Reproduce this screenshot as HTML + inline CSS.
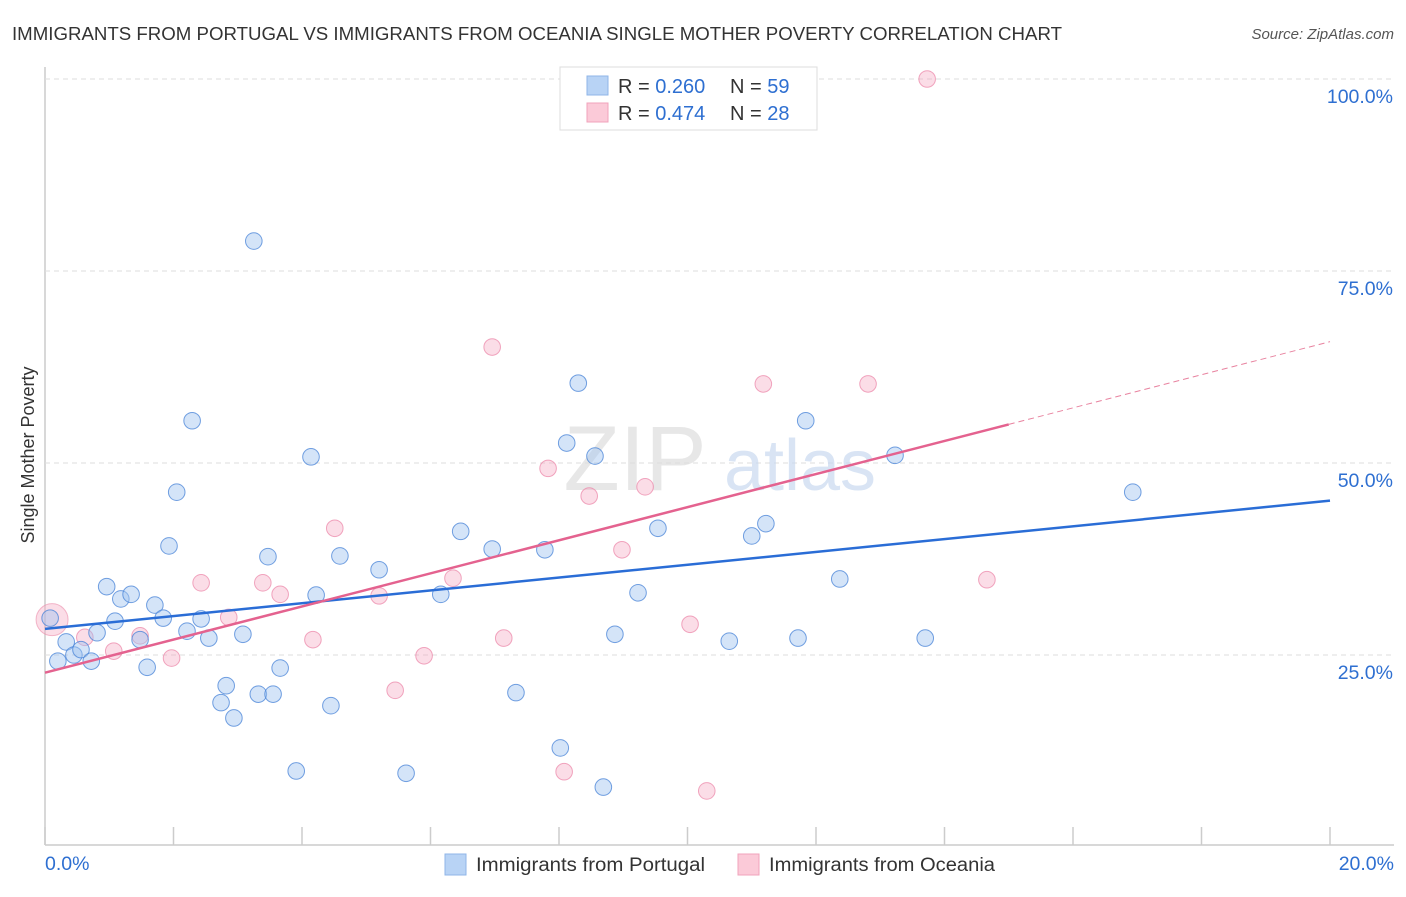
<!DOCTYPE html>
<html><head><meta charset="utf-8"><style>
body{margin:0;background:#fff;font-family:"Liberation Sans",sans-serif;}
svg text{font-family:"Liberation Sans",sans-serif;}
</style></head><body>
<svg id="chart" width="1406" height="892" viewBox="0 0 1406 892" xmlns="http://www.w3.org/2000/svg">
<text x="12" y="40" font-size="18" fill="#333" textLength="1050" lengthAdjust="spacingAndGlyphs">IMMIGRANTS FROM PORTUGAL VS IMMIGRANTS FROM OCEANIA SINGLE MOTHER POVERTY CORRELATION CHART</text>
<text x="1394" y="39" font-size="15" fill="#555" text-anchor="end" font-style="italic">Source: ZipAtlas.com</text>
<text transform="translate(34,455) rotate(-90)" font-size="18" fill="#333" text-anchor="middle">Single Mother Poverty</text>
<g id="grid"></g>
<g id="watermark">
<text x="635" y="490" font-size="92" fill="#ddd" text-anchor="middle" font-family="Liberation Serif" opacity="0.7">ZIP</text>
<text x="800" y="490" font-size="72" fill="#c9daf0" text-anchor="middle" opacity="0.7">atlas</text>
</g>
<g id="points"></g>
<g id="lines"></g>
<g>
<rect x="560" y="67" width="257" height="63" fill="#fff" stroke="#ddd"/>
<rect x="587" y="76" width="21" height="19" fill="#b8d3f5" stroke="#8fb6e8"/>
<rect x="587" y="103" width="21" height="19" fill="#fbcad8" stroke="#f0a3bb"/>
<text x="618" y="93" font-size="20" fill="#333">R = <tspan fill="#2e6fd1">0.260</tspan><tspan x="730">N = </tspan><tspan fill="#2e6fd1">59</tspan></text>
<text x="618" y="120" font-size="20" fill="#333">R = <tspan fill="#2e6fd1"> 0.474</tspan><tspan x="730">N = </tspan><tspan fill="#2e6fd1">28</tspan></text>
</g>
<g>
<rect x="445" y="854" width="21" height="21" fill="#b8d3f5" stroke="#8fb6e8"/>
<text x="476" y="871" font-size="19" fill="#333" textLength="229" lengthAdjust="spacingAndGlyphs">Immigrants from Portugal</text>
<rect x="738" y="854" width="21" height="21" fill="#fbcad8" stroke="#f0a3bb"/>
<text x="769" y="871" font-size="19" fill="#333" textLength="226" lengthAdjust="spacingAndGlyphs">Immigrants from Oceania</text>
</g>
</svg>
<script>
const yTicks=[25,50,75,100];
const yTickLabels=["25.0%","50.0%","75.0%","100.0%"];
const xTicks=[0,2,4,6,8,10,12,14,16,18,20];
const xEndLabels=["0.0%","20.0%"];
const portugalX=[0.08,0.20,0.33,0.45,0.56,0.72,0.81,0.96,1.09,1.18,1.34,1.48,1.59,1.71,1.84,1.93,2.05,2.21,2.29,2.43,2.55,2.74,2.82,2.94,3.08,3.25,3.32,3.47,3.55,3.66,3.91,4.14,4.22,4.45,4.59,5.20,5.62,6.16,6.47,6.96,7.33,7.78,8.02,8.12,8.30,8.56,8.69,8.87,9.23,9.54,10.65,11.00,11.22,11.72,11.84,12.37,13.23,13.70,16.93];
const portugalY=[29.8,24.2,26.7,25.0,25.7,24.2,27.9,33.9,29.4,32.3,32.9,27.0,23.4,31.5,29.8,39.2,46.2,28.1,55.5,29.7,27.2,18.8,21.0,16.8,27.7,78.9,19.9,37.8,19.9,23.3,9.9,50.8,32.8,18.4,37.9,36.1,9.6,32.9,41.1,38.8,20.1,38.7,12.9,52.6,60.4,50.9,7.8,27.7,33.1,41.5,26.8,40.5,42.1,27.2,55.5,34.9,51.0,27.2,46.2];
const oceaniaX=[0.11,0.62,1.07,1.48,1.97,2.43,2.86,3.39,3.66,4.17,4.51,5.20,5.45,5.90,6.35,6.96,7.14,7.83,8.08,8.47,8.98,9.34,10.04,10.30,11.18,12.81,13.73,14.66];
const oceaniaY=[29.6,27.3,25.5,27.5,24.6,34.4,29.9,34.4,32.9,27.0,41.5,32.7,20.4,24.9,35.0,65.1,27.2,49.3,9.8,45.7,38.7,46.9,29.0,7.3,60.3,60.3,100,34.8];
const portugalTrend=[28.4,0.835];
const oceaniaTrend=[22.7,2.155];
const oceaniaSolidEnd=15.0;

const NS="http://www.w3.org/2000/svg";
const X0=45,X1=1330,YB=847,YT=79;
const xs=v=>X0+(v/20)*(X1-X0);
const ys=v=>YB-(v/100)*(YB-YT);
function mk(tag,attrs,parent){const e=document.createElementNS(NS,tag);for(const k in attrs)e.setAttribute(k,attrs[k]);parent.appendChild(e);return e;}
const grid=document.getElementById('grid');
const ax=mk('line',{x1:X0,y1:67,x2:X0,y2:845,stroke:'#ccc','stroke-width':1.5},grid);


const bx=mk('line',{x1:X0,y1:845,x2:1394,y2:845,stroke:'#ccc','stroke-width':1.5},grid);


yTicks.forEach((t,i)=>{
 const g=mk('line',{x1:X0,y1:ys(t),x2:1394,y2:ys(t),stroke:'#ddd','stroke-dasharray':'5,4'},grid);
 
 
 const l=mk('text',{x:1393,y:ys(t)+24,'font-size':19.5,fill:'#2e6fd1','text-anchor':'end'},grid);
 l.textContent=yTickLabels[i];
 
 
});
xTicks.forEach(t=>{
 const k=mk('line',{x1:xs(t),y1:827,x2:xs(t),y2:845,stroke:'#ccc','stroke-width':1.5},grid);
 
 
});
const xl0=mk('text',{x:45,y:870,'font-size':19.5,fill:'#2e6fd1'},grid);xl0.textContent=xEndLabels[0];


const xl1=mk('text',{x:1394,y:870,'font-size':19.5,fill:'#2e6fd1','text-anchor':'end'},grid);xl1.textContent=xEndLabels[1];



const pts=document.getElementById('points');
const big=mk('circle',{cx:xs(oceaniaX[0]),cy:ys(oceaniaY[0]),r:16,fill:'rgba(246,170,195,0.4)',stroke:'rgba(235,140,170,0.6)'},pts);


oceaniaX.forEach((x,i)=>{ if(i===0)return;
 const c=mk('circle',{cx:xs(x),cy:ys(oceaniaY[i]),r:8.3,fill:'rgba(246,170,195,0.4)',stroke:'rgba(235,130,165,0.7)','stroke-width':1},pts);
 
 
});
portugalX.forEach((x,i)=>{
 const c=mk('circle',{cx:xs(x),cy:ys(portugalY[i]),r:8.3,fill:'rgba(160,195,240,0.45)',stroke:'rgba(70,130,215,0.75)','stroke-width':1},pts);
 
 
});
const lines=document.getElementById('lines');
const f=(t,x)=>t[0]+t[1]*x;
const bl=mk('line',{x1:xs(0),y1:ys(f(portugalTrend,0)),x2:xs(20),y2:ys(f(portugalTrend,20)),stroke:'#2a6dd6','stroke-width':2.5},lines);


const pl=mk('line',{x1:xs(0),y1:ys(f(oceaniaTrend,0)),x2:xs(oceaniaSolidEnd),y2:ys(f(oceaniaTrend,oceaniaSolidEnd)),stroke:'#e4628f','stroke-width':2.5},lines);


const pd=mk('line',{x1:xs(oceaniaSolidEnd),y1:ys(f(oceaniaTrend,oceaniaSolidEnd)),x2:xs(20),y2:ys(f(oceaniaTrend,20)),stroke:'#e8829f','stroke-width':1,'stroke-dasharray':'6,4'},lines);


</script>
</body></html>
